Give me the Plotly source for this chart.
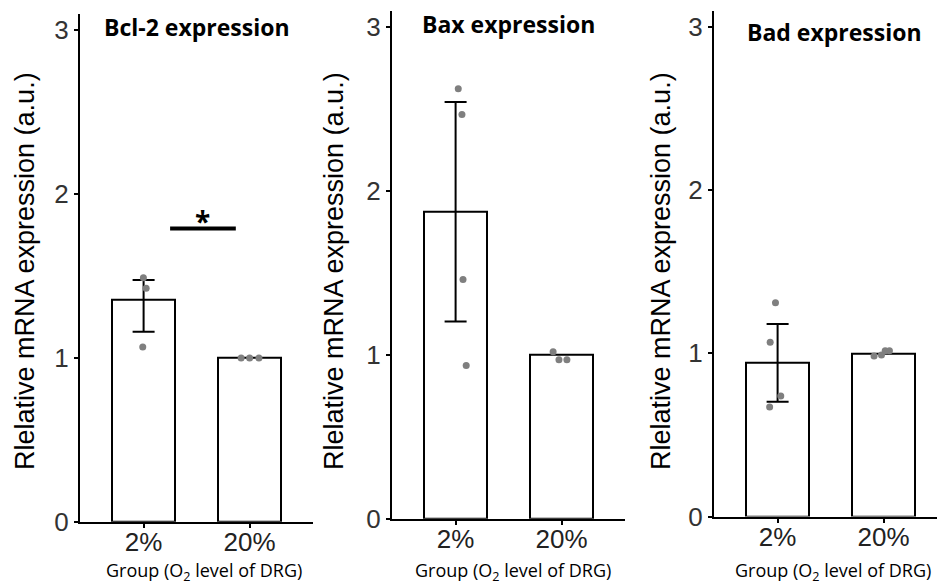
import plotly.graph_objects as go

groups = ["2%", "20%"]
titles = ["Bcl-2 expression", "Bax expression", "Bad expression"]

bcl2_means = [1.354, 1.0]
bcl2_err_up = [0.122, 0.0]
bcl2_err_down = [0.194, 0.0]
bcl2_pts_2 = [1.49, 1.425, 1.067]
bcl2_jit_2 = [-0.002, 0.024, -0.008]
bcl2_pts_20 = [1.0, 1.0, 1.0]
bcl2_jit_20 = [-0.08, 0.0, 0.088]

bax_means = [1.874, 1.0]
bax_err_up = [0.67, 0.0]
bax_err_down = [0.67, 0.0]
bax_pts_2 = [2.624, 2.468, 1.46, 0.935]
bax_jit_2 = [0.025, 0.06, 0.07, 0.10]
bax_pts_20 = [1.02, 0.971, 0.971]
bax_jit_20 = [-0.08, -0.025, 0.05]

bad_means = [0.945, 1.0]
bad_err_up = [0.235, 0.0]
bad_err_down = [0.241, 0.0]
bad_pts_2 = [1.31, 1.068, 0.739, 0.672]
bad_jit_2 = [-0.02, -0.07, 0.03, -0.075]
bad_pts_20 = [0.984, 0.99, 1.016, 1.016]
bad_jit_20 = [-0.09, -0.02, 0.015, 0.055]

sig_y = 1.79
sig_x = [0.25, 0.87]

# page geometry: default 8px body margin, page rendered ~600px tall then fit to 585
OFF = 8
SY = 585 / 600
W, H = 945 - 2 * OFF, 600 - 2 * OFF


def px_x(x):
    return (x - OFF) / W


def px_y(y):
    return 1 - (y / SY - OFF) / H


panels = [
    dict(means=bcl2_means, up=bcl2_err_up, dn=bcl2_err_down,
         p2=bcl2_pts_2, j2=bcl2_jit_2, p20=bcl2_pts_20, j20=bcl2_jit_20,
         x0=80, x1=313, base=522, unit=164, tcx=196.5, tcy=27, ytx=25, xtx=203.5),
    dict(means=bax_means, up=bax_err_up, dn=bax_err_down,
         p2=bax_pts_2, j2=bax_jit_2, p20=bax_pts_20, j20=bax_jit_20,
         x0=392, x1=625, base=519, unit=164, tcx=508, tcy=24, ytx=334, xtx=513),
    dict(means=bad_means, up=bad_err_up, dn=bad_err_down,
         p2=bad_pts_2, j2=bad_jit_2, p20=bad_pts_20, j20=bad_jit_20,
         x0=714, x1=945, base=516.7, unit=163.3, tcx=834.5, tcy=32, ytx=661, xtx=833),
]

fig = go.Figure()
YMAX = 3.1
annotations = []
shapes = []
for i, p in enumerate(panels):
    n = "" if i == 0 else str(i + 1)
    xa, ya = "x" + n, "y" + n
    fig.add_trace(go.Bar(x=[0, 1], y=p["means"], width=0.6,
                         marker=dict(color="white", line=dict(color="black", width=2)),
                         xaxis=xa, yaxis=ya, showlegend=False))
    fig.add_trace(go.Scatter(x=[0], y=[p["means"][0]], mode="markers",
                             marker=dict(opacity=0, size=1),
                             error_y=dict(type="data", symmetric=False,
                                          array=[p["up"][0]], arrayminus=[p["dn"][0]],
                                          color="black", thickness=2, width=11),
                             xaxis=xa, yaxis=ya, showlegend=False))
    px = [0 + j for j in p["j2"]] + [1 + j for j in p["j20"]]
    py = p["p2"] + p["p20"]
    fig.add_trace(go.Scatter(x=px, y=py, mode="markers",
                             marker=dict(color="#7f7f7f", size=7),
                             xaxis=xa, yaxis=ya, showlegend=False))
    x1 = min(p["x1"], OFF + W)
    span = (x1 - p["x0"]) / 106.0
    dom_x = [px_x(p["x0"]), px_x(x1)]
    top_px = p["base"] - YMAX * p["unit"]
    dom_y = [px_y(p["base"]), px_y(top_px)]
    fig.update_layout(**{
        "xaxis" + n: dict(domain=dom_x, anchor=ya, range=[-0.6, -0.6 + span],
                          tickvals=[0, 1], ticktext=groups, showline=True,
                          linecolor="black", linewidth=2, ticks="outside",
                          ticklen=4, tickcolor="black", tickwidth=1.5,
                          ticklabelstandoff=-8,
                          showgrid=False, zeroline=False,
                          tickfont=dict(family="Liberation Sans", size=26, color="#222")),
        "yaxis" + n: dict(domain=dom_y, anchor=xa, range=[0, YMAX],
                          tickvals=[0, 1, 2, 3], showline=True, linecolor="black",
                          linewidth=2, ticks="outside", ticklen=4, tickcolor="black",
                          tickwidth=1.5, showgrid=False, zeroline=False,
                          tickfont=dict(family="Liberation Sans", size=26, color="#333")),
    })
    annotations.append(dict(text="<b>" + titles[i] + "</b>", xref="paper", yref="paper",
                            x=px_x(p["tcx"]), y=px_y(p["tcy"]), showarrow=False,
                            xanchor="center", yanchor="middle",
                            font=dict(family="Open Sans", size=23, color="black")))
    annotations.append(dict(text="Rlelative mRNA expression (a.u.)", xref="paper", yref="paper",
                            x=px_x(p["ytx"]), y=px_y(271), showarrow=False, textangle=-90,
                            xanchor="center", yanchor="middle",
                            font=dict(family="Liberation Sans", size=27, color="black")))
    annotations.append(dict(text="Group (O<sub>2</sub> level of DRG)", xref="paper", yref="paper",
                            x=px_x(p["xtx"]), y=px_y(572), showarrow=False,
                            xanchor="center", yanchor="middle",
                            font=dict(family="Open Sans", size=18, color="black")))

shapes.append(dict(type="line", xref="x", yref="y", x0=sig_x[0], x1=sig_x[1],
                   y0=sig_y, y1=sig_y, line=dict(color="black", width=4)))
annotations.append(dict(text="<b>*</b>", xref="x", yref="y", x=sum(sig_x) / 2, y=sig_y,
                        showarrow=False, yanchor="bottom", yshift=-14,
                        font=dict(family="Open Sans", size=28, color="black")))

fig.update_layout(width=W, height=H, margin=dict(l=0, r=0, t=0, b=0),
                  plot_bgcolor="white", paper_bgcolor="white",
                  annotations=annotations, shapes=shapes, bargap=0)
fig.write_html("out.html")
